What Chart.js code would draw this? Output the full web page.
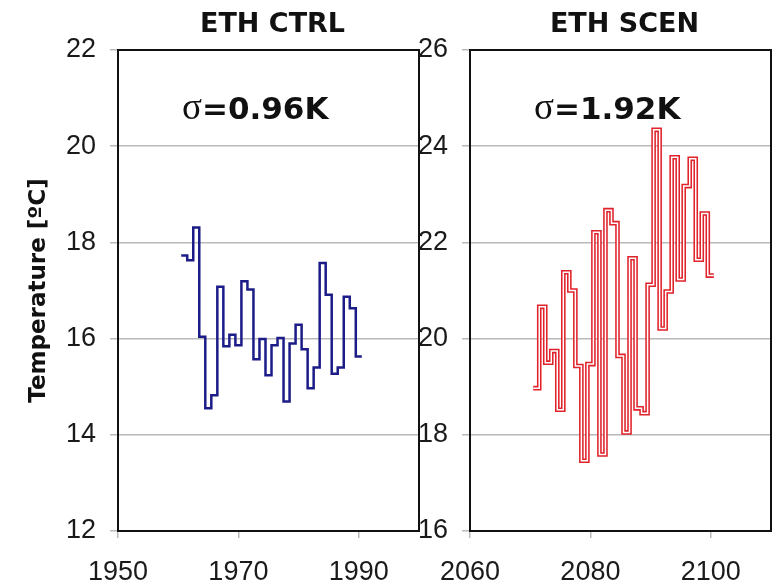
<!DOCTYPE html>
<html>
<head>
<meta charset="utf-8">
<script src="https://cdn.jsdelivr.net/npm/chart.js@4.4.1/dist/chart.umd.min.js"></script>
<style>
  html, body { margin: 0; padding: 0; background: #fff; }
  #wrap { position: relative; width: 779px; height: 587px; overflow: hidden; }
  #ctrl { position: absolute; left: 0; top: 0; }
  #scen { position: absolute; left: 400px; top: 0; }
</style>
</head>
<body>
<div id="wrap">
  <canvas id="ctrl" width="440" height="587"></canvas>
  <canvas id="scen" width="379" height="587"></canvas>
</div>
<script>
// Summer mean temperature, control run 1961-1990
const ctrlYears = [1961, 1962, 1963, 1964, 1965, 1966, 1967, 1968, 1969, 1970,
                   1971, 1972, 1973, 1974, 1975, 1976, 1977, 1978, 1979, 1980,
                   1981, 1982, 1983, 1984, 1985, 1986, 1987, 1988, 1989, 1990];
const ctrlTemps = [17.73, 17.63, 18.31, 16.04, 14.55, 14.82, 17.08, 15.84, 16.08, 15.86,
                   17.19, 17.02, 15.57, 15.99, 15.24, 15.86, 16.01, 14.69, 15.90, 16.29,
                   15.78, 14.97, 15.40, 17.57, 16.91, 15.27, 15.40, 16.87, 16.63, 15.63];

// Summer mean temperature, scenario run 2071-2100
const scenYears = [2071, 2072, 2073, 2074, 2075, 2076, 2077, 2078, 2079, 2080,
                   2081, 2082, 2083, 2084, 2085, 2086, 2087, 2088, 2089, 2090,
                   2091, 2092, 2093, 2094, 2095, 2096, 2097, 2098, 2099, 2100];
const scenTemps = [18.97, 20.66, 19.50, 19.74, 18.52, 21.38, 21.00, 19.43, 17.46, 19.47,
                   22.21, 17.59, 22.67, 22.40, 19.64, 18.05, 21.67, 18.55, 18.45, 21.12,
                   24.34, 20.21, 20.98, 23.77, 21.23, 23.17, 23.74, 21.64, 22.60, 21.31];

// Axis ticks
const ctrlXTicks = [1950, 1970, 1990];
const ctrlYTicks = [12, 14, 16, 18, 20, 22];
const scenXTicks = [2060, 2080, 2100];
const scenYTicks = [16, 18, 20, 22, 24, 26];

const panelTitles = ['ETH CTRL', 'ETH SCEN'];
const sigmaValues = ['0.96K', '1.92K'];
const yAxisTitle = 'Temperature [ºC]';

// Each yearly value is held flat across its year (year - 0.5 .. year + 0.5)
function stepPoints(years, values) {
  const pts = [];
  years.forEach((yr, i) => {
    pts.push({ x: yr - 0.5, y: values[i] });
    pts.push({ x: yr + 0.5, y: values[i] });
  });
  return pts;
}

const tickFont = { family: '"Liberation Sans", Arial, sans-serif', size: 27 };
const gridGrey = '#b9b9b9';

// Frame around the plot area plus the panel heading and sigma annotation
const panelDecor = {
  id: 'panelDecor',
  afterDraw(chart, args, opts) {
    const { ctx, chartArea: a } = chart;
    ctx.save();
    ctx.strokeStyle = '#111';
    ctx.lineWidth = 2;
    ctx.strokeRect(a.left, a.top, a.right - a.left, a.bottom - a.top);

    ctx.fillStyle = '#111';
    ctx.textBaseline = 'alphabetic';
    ctx.textAlign = 'center';
    ctx.font = 'bold 27px "DejaVu Sans"';
    ctx.fillText(opts.title, (a.left + a.right) / 2 + 4, 32);

    ctx.textAlign = 'left';
    const sx = a.left + 64;
    const sy = 119;
    ctx.font = '37px "Liberation Serif"';
    ctx.fillText('σ', sx, sy);
    const w = ctx.measureText('σ').width;
    ctx.font = 'bold 31px "DejaVu Sans"';
    ctx.fillText('=' + opts.sigma, sx + w, sy);
    ctx.restore();
  }
};

function makePanel(canvasId, years, temps, xMin, xMax, xTicks, yTicks, lineColor, twinLine, title, sigma, yWidth, padRight, showYTitle) {
  const pts = stepPoints(years, temps);
  const datasets = [];
  if (twinLine) {
    // hollow line: white core over a wide coloured stroke
    datasets.push({ data: pts, borderColor: '#ffffff', borderWidth: 1.5, pointRadius: 0, order: 1,
                    borderJoinStyle: 'miter', borderCapStyle: 'butt', tension: 0 });
    datasets.push({ data: pts, borderColor: lineColor, borderWidth: 4.6, pointRadius: 0, order: 2,
                    borderJoinStyle: 'miter', borderCapStyle: 'butt', tension: 0 });
  } else {
    datasets.push({ data: pts, borderColor: lineColor, borderWidth: 2.5, pointRadius: 0,
                    borderJoinStyle: 'miter', borderCapStyle: 'butt', tension: 0 });
  }

  return new Chart(document.getElementById(canvasId), {
    type: 'line',
    data: { datasets },
    options: {
      responsive: false,
      animation: false,
      layout: { padding: { top: 50, right: padRight, left: 0, bottom: 0 } },
      plugins: {
        legend: { display: false },
        tooltip: { enabled: false },
        panelDecor: { title, sigma }
      },
      scales: {
        x: {
          type: 'linear',
          min: xMin,
          max: xMax,
          afterBuildTicks: s => { s.ticks = xTicks.map(v => ({ value: v })); },
          afterFit: s => { s.height = 56; },
          grid: { drawOnChartArea: false, drawTicks: true, tickLength: 7, tickColor: gridGrey, lineWidth: 1.5 },
          border: { display: false },
          ticks: { font: tickFont, color: '#1a1a1a', padding: 18, autoSkip: false, maxRotation: 0,
                   callback: v => String(v) }
        },
        y: {
          min: yTicks[0],
          max: yTicks[yTicks.length - 1],
          afterBuildTicks: s => { s.ticks = yTicks.map(v => ({ value: v })); },
          afterFit: s => { s.width = yWidth; },
          grid: { color: gridGrey, lineWidth: 1.5, drawTicks: true, tickLength: 8, tickColor: gridGrey },
          border: { display: false },
          ticks: { font: tickFont, color: '#1a1a1a', padding: 14, autoSkip: false },
          title: {
            display: showYTitle,
            text: yAxisTitle,
            color: '#111',
            font: { family: '"DejaVu Sans"', weight: 'bold', size: 23 },
            padding: { top: 25, bottom: 0 }
          }
        }
      }
    },
    plugins: [panelDecor]
  });
}

makePanel('ctrl', ctrlYears, ctrlTemps, 1950, 2000, ctrlXTicks, ctrlYTicks, '#1c1c88', false,
          panelTitles[0], sigmaValues[0], 118, 21, true);
makePanel('scen', scenYears, scenTemps, 2060, 2110, scenXTicks, scenYTicks, '#e0222a', true,
          panelTitles[1], sigmaValues[1], 70, 8, false);
</script>
</body>
</html>
